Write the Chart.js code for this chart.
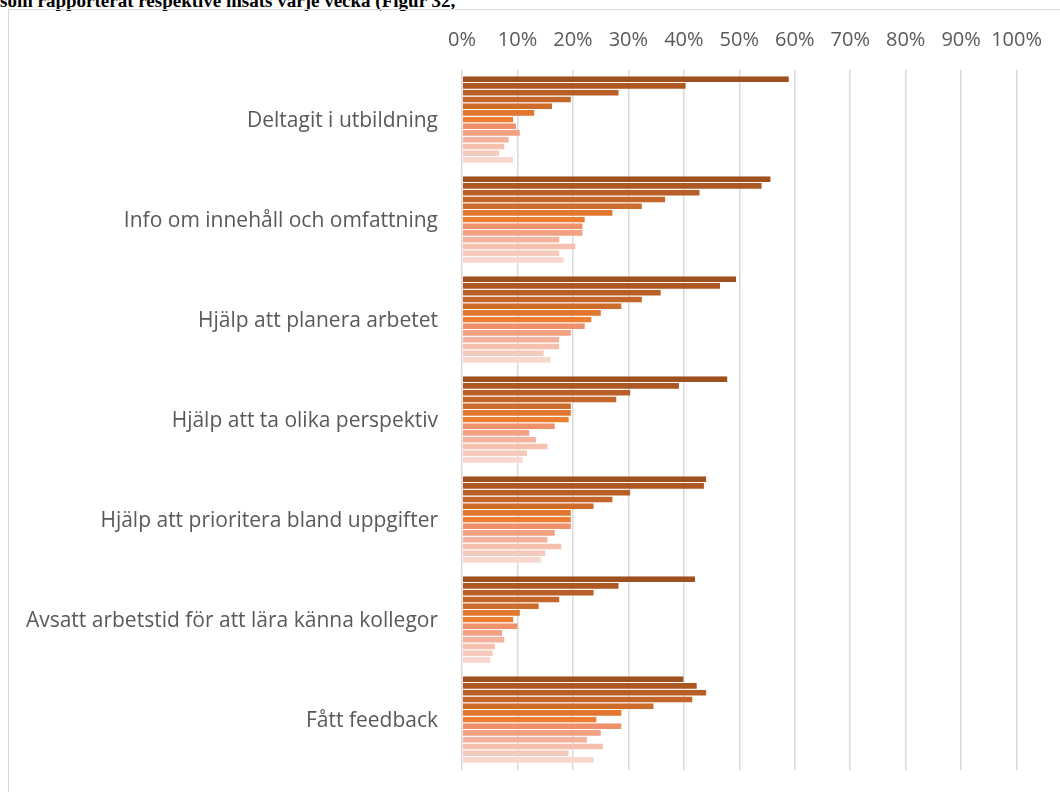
<!DOCTYPE html>
<html lang="sv">
<head>
<meta charset="utf-8">
<title>Insatser per vecka</title>
<script src="https://cdn.jsdelivr.net/npm/chart.js@4/dist/chart.umd.min.js"></script>
<style>
  html, body { margin: 0; padding: 0; background: #ffffff; }
  body { width: 1060px; height: 792px; position: relative; overflow: hidden; }
  #heading {
    position: absolute; left: 0; top: -9px; margin: 0;
    font: bold 19px "Liberation Serif", "Times New Roman", serif;
    line-height: 1; color: #000000; white-space: nowrap;
  }
  #frame {
    position: absolute; left: 8px; top: 9px; width: 1100px; height: 900px;
    border-top: 1.5px solid #d9d9d9; border-left: 1.5px solid #d9d9d9;
    box-sizing: border-box;
  }
  #chart { position: absolute; left: 0; top: 0; }
</style>
</head>
<body>
<div id="heading">som rapporterat respektive insats varje vecka (Figur 32,</div>
<div id="frame"></div>
<canvas id="chart" width="1060" height="792"></canvas>
<script>
// Insatser (kategorier)
const categories = [
  "Deltagit i utbildning",
  "Info om innehåll och omfattning",
  "Hjälp att planera arbetet",
  "Hjälp att ta olika perspektiv",
  "Hjälp att prioritera bland uppgifter",
  "Avsatt arbetstid för att lära känna kollegor",
  "Fått feedback"
];

// Veckor (serier)
const weeks = ["Vecka 1", "Vecka 2", "Vecka 3", "Vecka 4", "Vecka 5", "Vecka 6", "Vecka 7",
               "Vecka 8", "Vecka 9", "Vecka 10", "Vecka 11", "Vecka 12", "Vecka 13"];

// Andel (%) per insats, en rad per vecka
const week1  = [59.1, 55.8, 49.6, 48.0, 44.2, 42.2, 40.1];
const week2  = [40.5, 54.2, 46.7, 39.3, 43.8, 28.4, 42.5];
const week3  = [28.4, 43.0, 36.0, 30.5, 30.5, 23.9, 44.2];
const week4  = [19.8, 36.8, 32.6, 28.0, 27.3, 17.7, 41.7];
const week5  = [16.4, 32.6, 28.9, 19.8, 23.9, 14.0, 34.7];
const week6  = [13.2, 27.3, 25.2, 19.8, 19.8, 10.6, 28.9];
const week7  = [9.4, 22.3, 23.5, 19.4, 19.8, 9.4, 24.4];
const week8  = [9.9, 21.9, 22.3, 16.9, 19.8, 10.2, 28.9];
const week9  = [10.6, 21.9, 19.8, 12.3, 16.9, 7.4, 25.2];
const week10 = [8.6, 17.7, 17.7, 13.5, 15.6, 7.8, 22.7];
const week11 = [7.8, 20.6, 17.7, 15.6, 18.1, 6.1, 25.6];
const week12 = [6.9, 17.7, 14.9, 11.9, 15.2, 5.7, 19.4];
const week13 = [9.4, 18.5, 16.1, 11.1, 14.4, 5.3, 23.9];

const weekValues = [week1, week2, week3, week4, week5, week6, week7,
                    week8, week9, week10, week11, week12, week13];

// X-axelns skalsteg (%)
const tickValues = [0, 10, 20, 30, 40, 50, 60, 70, 80, 90, 100];

// Färgskala från mörkbrun via orange till ljust laxrosa
const weekColors = ["#9f501f", "#ad5823", "#b85e26", "#c4662a", "#ce6c2c", "#e0762f", "#ed7d31",
                    "#f0916b", "#f2a282", "#f3b39c", "#f5c0ae", "#f6cbbe", "#f8d8ce"];

const datasets = weekValues.map((vals, i) => ({
  label: weeks[i],
  data: vals,
  backgroundColor: weekColors[i],
  borderColor: "rgba(255,255,255,0.22)",
  borderWidth: { top: 0, right: 1, bottom: 1, left: 0 },
  borderSkipped: "start",
  barPercentage: 1.0,
  categoryPercentage: 0.873
}));

const fontFamily = "'Open Sans', 'Noto Sans', sans-serif";

new Chart(document.getElementById("chart"), {
  type: "bar",
  data: { labels: categories, datasets: datasets },
  options: {
    indexAxis: "y",
    responsive: false,
    animation: false,
    devicePixelRatio: 1,
    layout: { padding: { left: 0, right: 43, top: 0, bottom: 22 } },
    plugins: { legend: { display: false }, tooltip: { enabled: false }, title: { display: false } },
    scales: {
      x: {
        position: "top",
        min: 0,
        max: 100,
        afterBuildTicks: (scale) => { scale.ticks = tickValues.map(v => ({ value: v })); },
        afterFit: (scale) => { scale.height = 70; },
        ticks: {
          color: "#595959",
          font: { family: fontFamily, size: 20 },
          padding: 18,
          maxRotation: 0,
          autoSkip: false,
          callback: (v) => v + "%"
        },
        grid: { color: "#d9d9d9", lineWidth: 1.5, drawTicks: false },
        border: { display: false }
      },
      y: {
        afterFit: (scale) => {
          scale.width = 462;
          scale.paddingTop = 0;
          scale.paddingBottom = 0;
        },
        ticks: { color: "#595959", font: { family: fontFamily, size: 21 }, padding: 24, labelOffset: 1 },
        grid: { display: false, drawTicks: false },
        border: { display: false }
      }
    }
  }
});
</script>
</body>
</html>
